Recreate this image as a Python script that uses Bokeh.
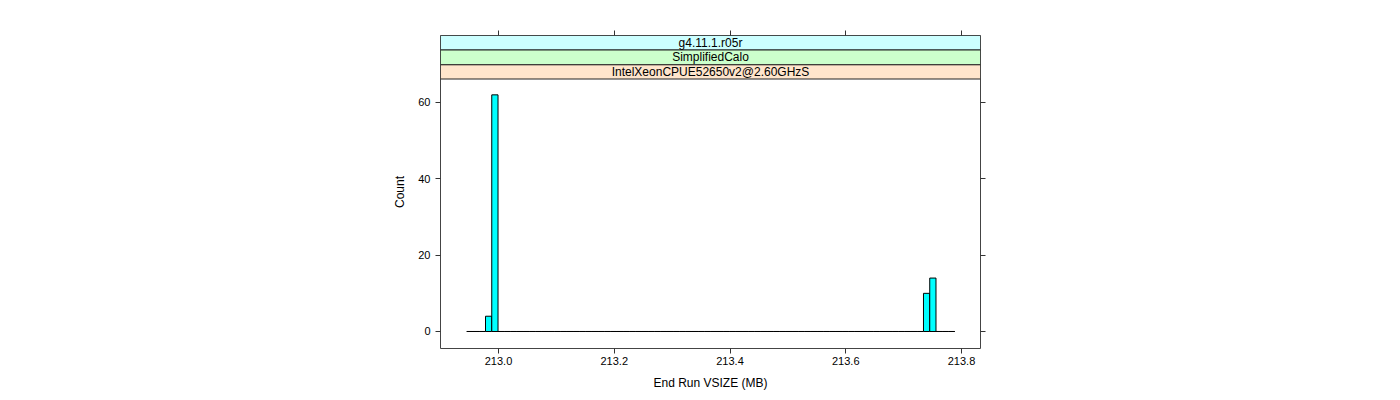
from bokeh.plotting import figure
from bokeh.models import Range1d, LinearAxis, FixedTicker, CustomJSTickFormatter, Label, ColumnDataSource
from bokeh.embed import file_html
from bokeh.resources import INLINE

# ---- data ----
bin_start = 212.94511
bin_width = 0.010811
counts = [0, 0, 0, 4, 62] + [0] * 68 + [10, 14, 0, 0, 0]
x_ticks = [213.0, 213.2, 213.4, 213.6, 213.8]
y_ticks = [0, 20, 40, 60]
strip_labels = ["g4.11.1.r05r", "SimplifiedCalo", "IntelXeonCPUE52650v2@2.60GHzS"]
strip_colors = ["#CCFFFF", "#CCFFCC", "#FFE5CC"]
x_label = "End Run VSIZE (MB)"
y_label = "Count"

FONT = "Liberation Sans"

lefts = [bin_start + i * bin_width for i in range(len(counts))]
rights = [l + bin_width for l in lefts]
src = ColumnDataSource(dict(left=lefts, right=rights, top=counts, bottom=[0] * len(counts)))

# frame geometry (pixels) -> ranges
frame_h = 313
x_lo, x_hi = 212.89978, 213.83283
y_lo, y_hi = -4.454, 77.55
px_per_y = frame_h / (y_hi - y_lo)

p = figure(width=1400, height=400, output_backend="svg", toolbar_location=None,
           x_range=Range1d(x_lo, x_hi), y_range=Range1d(y_lo, y_hi),
           min_border_left=440, min_border_right=420, min_border_top=35, min_border_bottom=52)
p.xaxis.visible = False
p.yaxis.visible = False
p.grid.visible = False
p.outline_line_color = "#444444"
p.outline_line_width = 1
p.background_fill_color = "white"
p.border_fill_color = "white"

def style_axis(ax, labels=True):
    ax.axis_line_color = None
    ax.major_tick_out = 5
    ax.major_tick_in = 0
    ax.minor_tick_line_color = None
    ax.major_tick_line_color = "#333333"
    ax.major_label_text_font = FONT
    ax.major_label_text_font_size = "11px"
    ax.major_label_text_color = "black"
    ax.axis_label_text_font = FONT
    ax.axis_label_text_font_size = "12px"
    ax.axis_label_text_font_style = "normal"
    ax.axis_label_text_color = "black"
    if not labels:
        ax.formatter = CustomJSTickFormatter(code="return ''")

bottom = LinearAxis(ticker=FixedTicker(ticks=x_ticks), axis_label=x_label)
style_axis(bottom)
bottom.major_label_standoff = 3
bottom.axis_label_standoff = 8
bottom.formatter = CustomJSTickFormatter(code="return tick.toFixed(1)")
p.add_layout(bottom, "below")

left = LinearAxis(ticker=FixedTicker(ticks=y_ticks), axis_label=y_label)
style_axis(left)
left.major_label_standoff = 5
left.axis_label_standoff = 8
left.major_label_orientation = "horizontal"
p.add_layout(left, "left")

top = LinearAxis(ticker=FixedTicker(ticks=x_ticks))
style_axis(top, labels=False)
p.add_layout(top, "above")

right = LinearAxis(ticker=FixedTicker(ticks=y_ticks))
style_axis(right, labels=False)
p.add_layout(right, "right")

# histogram bars
p.quad(left="left", right="right", top="top", bottom="bottom", source=src,
       fill_color="#00FFFF", line_color="black", line_width=1)

# strips (top of the panel)
strip_px = [(0, 14.5), (14.5, 29.3), (29.3, 43.5)]
for (a, b), lab, col in zip(strip_px, strip_labels, strip_colors):
    t = y_hi - a / px_per_y
    bt = y_hi - b / px_per_y
    p.quad(left=[x_lo], right=[x_hi], top=[t], bottom=[bt],
           fill_color=col, line_color="#222222", line_width=1)
    p.add_layout(Label(x=(x_lo + x_hi) / 2, y=(t + bt) / 2, text=lab, text_align="center",
                       text_baseline="middle", text_font=FONT, text_font_size="12px",
                       text_color="black"))

open("out.html", "w").write(file_html(p, INLINE))
